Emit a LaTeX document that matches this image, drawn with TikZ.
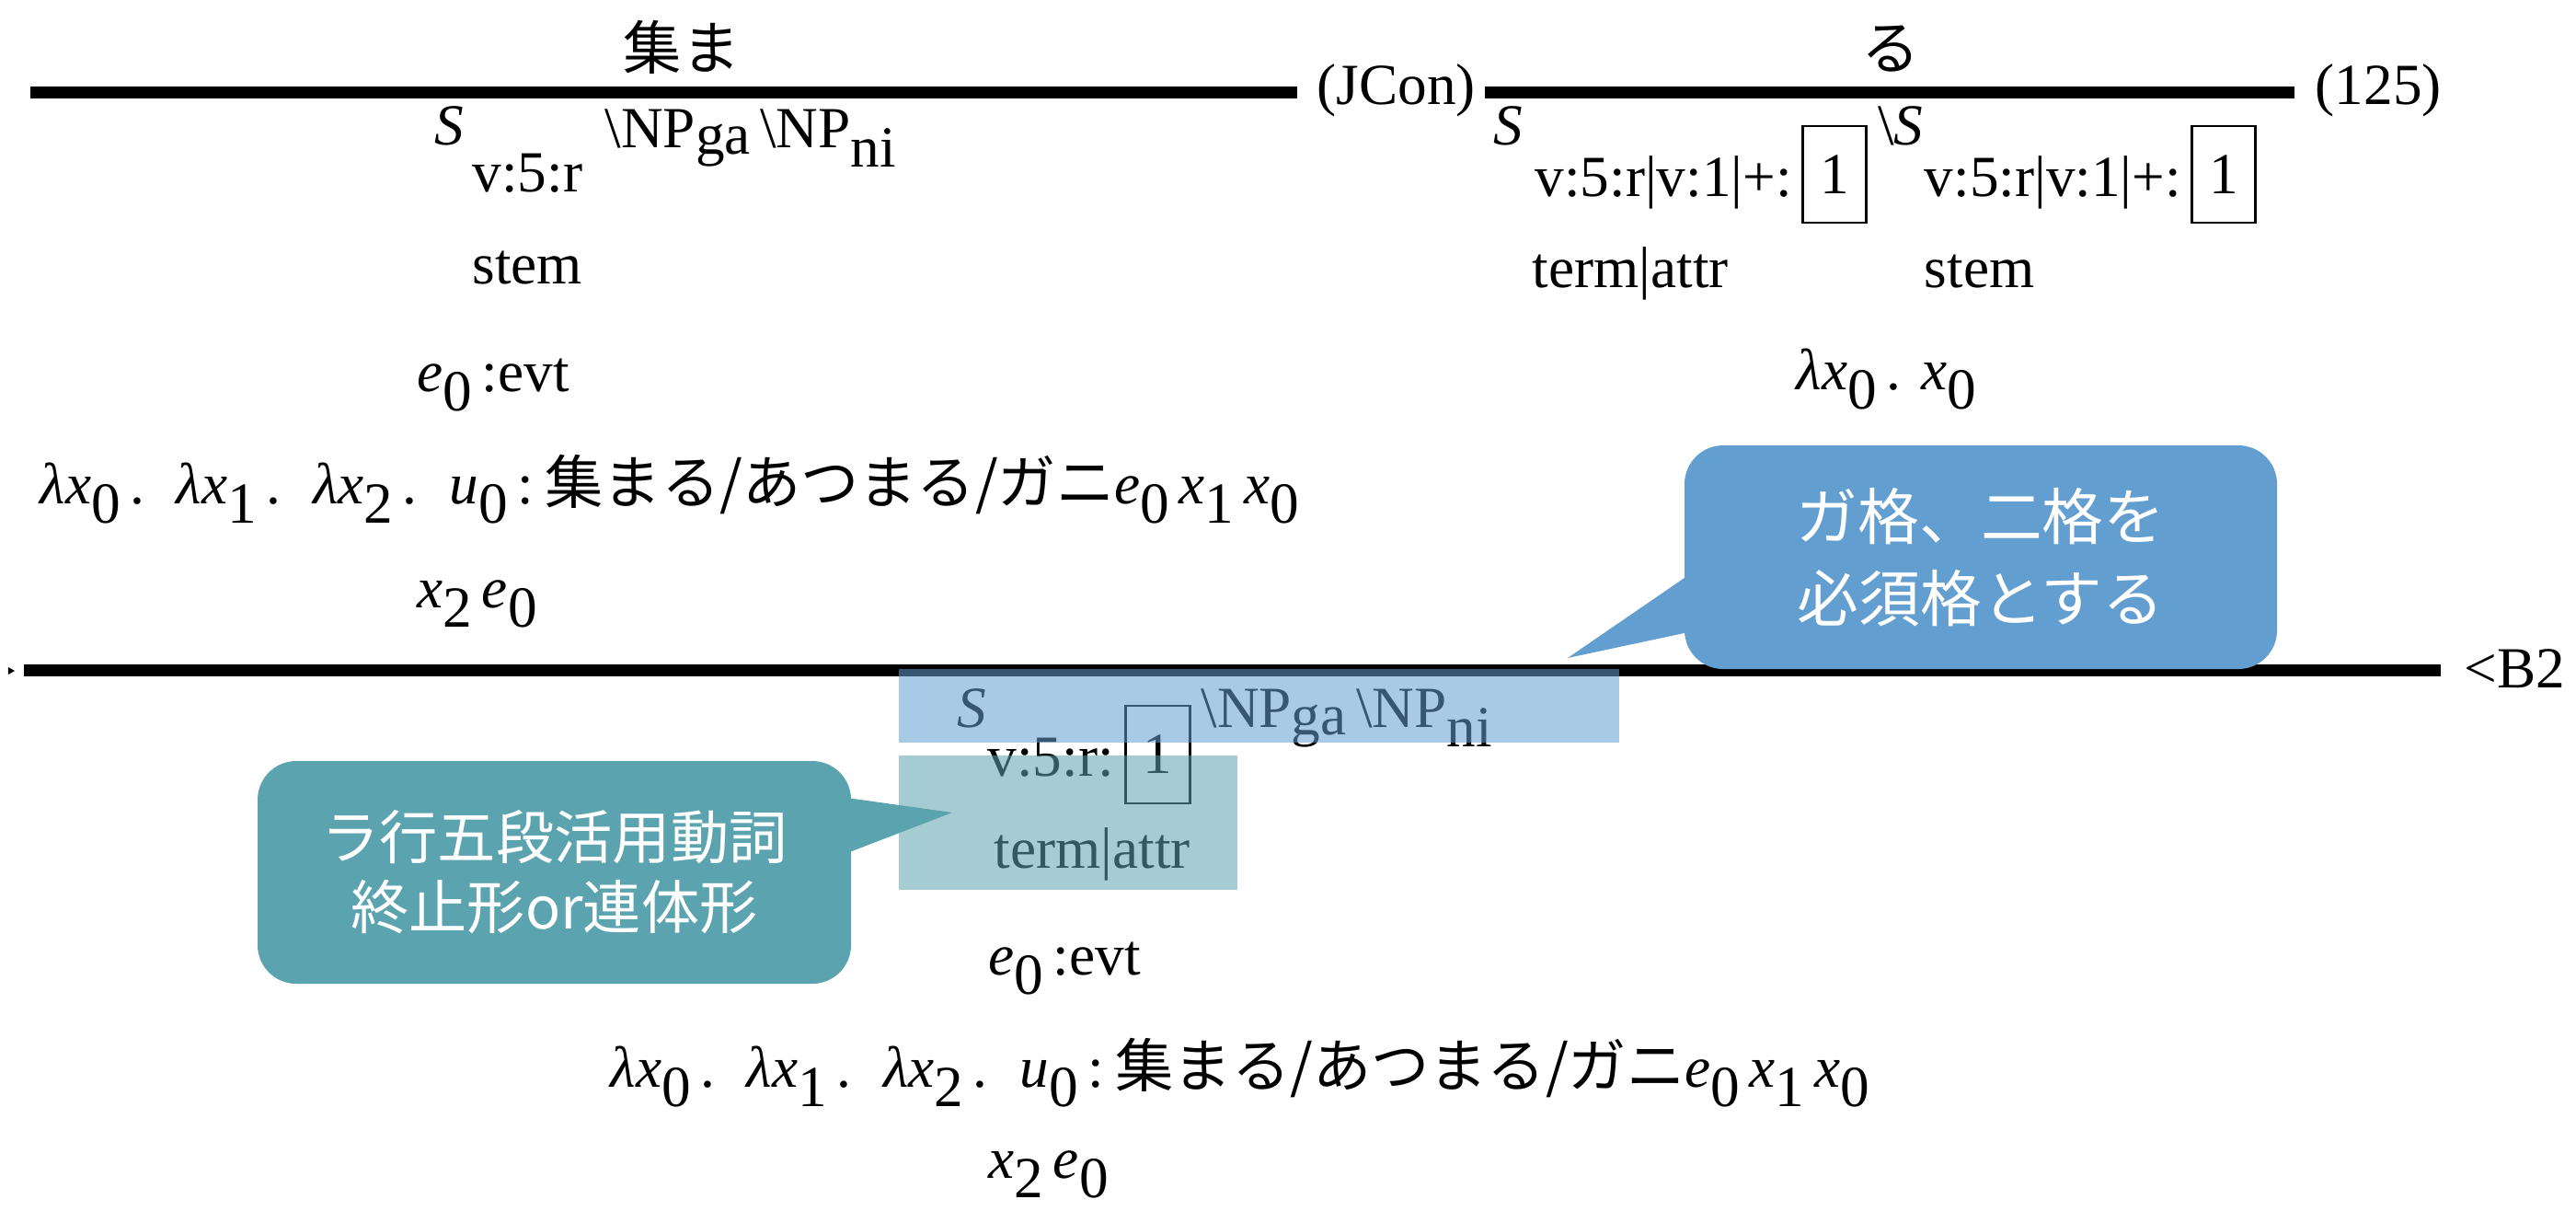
\documentclass[tikz,border=0pt]{standalone}
\usepackage{fontspec}
\setmainfont{Liberation Serif}
\newfontfamily\jp{Noto Sans CJK JP}
\usetikzlibrary{calc}
\definecolor{callblue}{HTML}{639ED1}
\definecolor{callteal}{HTML}{5BA3AE}
\newcommand{\mi}[1]{\textit{#1}}
\newcommand{\lo}[2][6pt]{\raisebox{-#1}{#2}\hspace{3pt}}
\newcommand{\bs}{\textbackslash}
\newcommand{\dt}{.\hspace{0.55em}}

\begin{document}
\begin{tikzpicture}[
    txt/.style={anchor=base west, inner sep=0pt, font=\fontsize{18}{22}\selectfont},
    jplabel/.style={anchor=base, inner sep=0pt, font=\jp\fontsize{18}{22}\selectfont},
    rule/.style={line width=3.7pt},
    slot/.style={draw, line width=0.7pt, inner sep=0pt, minimum width=0.69cm,
                 minimum height=1.05cm, font=\fontsize{18}{22}\selectfont},
    bubble/.style={fill=#1, rounded corners=0.42cm, text=white, align=center,
                   inner sep=0pt, font=\jp\fontsize{19}{25.5}\selectfont},
  ]
  \useasboundingbox (0,0) rectangle (28,-13.15);

  % Upper left: 集ま
  \draw[rule] (0.33,-1.00) -- (14.10,-1.00);
  \node[jplabel] (wA) at (7.41,-0.75) {集ま};
  \node[txt] (jcon) at (14.31,-1.13) {(JCon)};
  \node[txt] (sA) at (4.72,-1.57) {\mi{S}};
  \node[txt] (sAsub) at (5.13,-2.08) {v:5:r};
  \node[txt] (npA) at ($(sAsub.base east)+(0.23,0.48)$)
    {\bs NP\lo[2pt]{ga}\bs NP\lo{ni}};
  \node[txt] (stemA) at (5.13,-3.08) {stem};
  \node[txt] (evtA) at (4.53,-4.25) {\mi{e}\lo{0}:evt};
  \node[txt] (lamA) at (0.43,-5.47)
    {\mi{λx}\lo{0}\dt\mi{λx}\lo{1}\dt\mi{λx}\lo{2}\dt\mi{u}\lo{0}:\hspace{0.2em}{\jp 集まる/あつまる/ガニ}\mi{e}\lo{0}\mi{x}\lo{1}\mi{x}\lo{0}};
  \node[txt] (xeA) at (4.53,-6.60) {\mi{x}\lo{2}\mi{e}\lo{0}};

  % Upper right: る
  \draw[rule] (16.14,-1.00) -- (24.94,-1.00);
  \node[jplabel] (wB) at (20.55,-0.75) {る};
  \node[txt] (num) at (25.16,-1.13) {(125)};
  \node[txt] (sB) at (16.23,-1.57) {\mi{S}};
  \node[txt] (subB) at (16.68,-2.13) {v:5:r\textbar v:1\textbar +:};
  \node[slot] (boxB) at ($(subB.base east)+(0.455,0.235)$) {1};
  \node[txt] (sC) at ($(boxB.east |- sB.base)+(0.11,0)$) {\bs\mi{S}};
  \node[txt] (subC) at ($(sC.base east)+(0,-0.56)$) {v:5:r\textbar v:1\textbar +:};
  \node[slot] (boxC) at ($(subC.base east)+(0.455,0.235)$) {1};
  \node[txt] (termB) at (16.65,-3.12) {term\textbar attr};
  \node[txt] (stemC) at ($(subC.base west)+(0,-0.99)$) {stem};
  \node[txt] (lamB) at (19.52,-4.23) {\mi{λx}\lo{0}.\hspace{0.35em}\mi{x}\lo{0}};

  % Result
  \fill (0.09,-7.25) -- (0.16,-7.29) -- (0.09,-7.33) -- cycle;
  \draw[rule] (0.26,-7.285) -- (26.53,-7.285);
  \node[txt] (b2) at (26.78,-7.47) {<B2};
  \node[txt] (sD) at (10.40,-7.90) {\mi{S}};
  \node[txt] (subD) at ($(sD.base east)+(0,-0.53)$) {v:5:r:};
  \node[slot, minimum width=0.70cm, minimum height=1.06cm] (boxD)
    at ($(subD.base east)+(0.47,0.23)$) {1};
  \node[txt] (npD) at ($(boxD.east |- sD.base)+(0.10,0)$)
    {\bs NP\lo[2.5pt]{ga}\bs NP\lo{ni}};
  \node[txt] (termD) at (10.80,-9.43) {term\textbar attr};
  \node[txt] (evtD) at (10.74,-10.59) {\mi{e}\lo{0}:evt};
  \node[txt] (lamD) at (6.63,-11.81)
    {\mi{λx}\lo{0}\dt\mi{λx}\lo{1}\dt\mi{λx}\lo{2}\dt\mi{u}\lo{0}:\hspace{0.2em}{\jp 集まる/あつまる/ガニ}\mi{e}\lo{0}\mi{x}\lo{1}\mi{x}\lo{0}};
  \node[txt] (xeD) at (10.74,-12.80) {\mi{x}\lo{2}\mi{e}\lo{0}};

  % highlights
  \fill[callblue, fill opacity=0.55] (9.77,-7.27) rectangle (17.60,-8.07);
  \fill[callteal, fill opacity=0.55] (9.77,-8.21) rectangle (13.45,-9.67);

  % callouts
  \node[bubble=callblue, minimum width=6.44cm, minimum height=2.43cm] (ga)
    at (21.53,-6.055) {ガ格、二格を\\必須格とする};
  \coordinate (gatip) at (17.04,-7.15);
  \fill[callblue] ($(ga.west)+(0.05,-0.195)$) -- (gatip) -- ($(ga.west)+(0.05,-0.815)$) -- cycle;
  \node[bubble=callteal, minimum width=6.45cm, minimum height=2.42cm,
        font=\jp\fontsize{18}{21.6}\selectfont] (ra)
    at (6.025,-9.48) {ラ行五段活用動詞\\終止形or連体形};
  \coordinate (ratip) at (10.35,-8.83);
  \fill[callteal] ($(ra.east)+(-0.05,0.81)$) -- (ratip) -- ($(ra.east)+(-0.05,0.21)$) -- cycle;
\end{tikzpicture}
\end{document}
